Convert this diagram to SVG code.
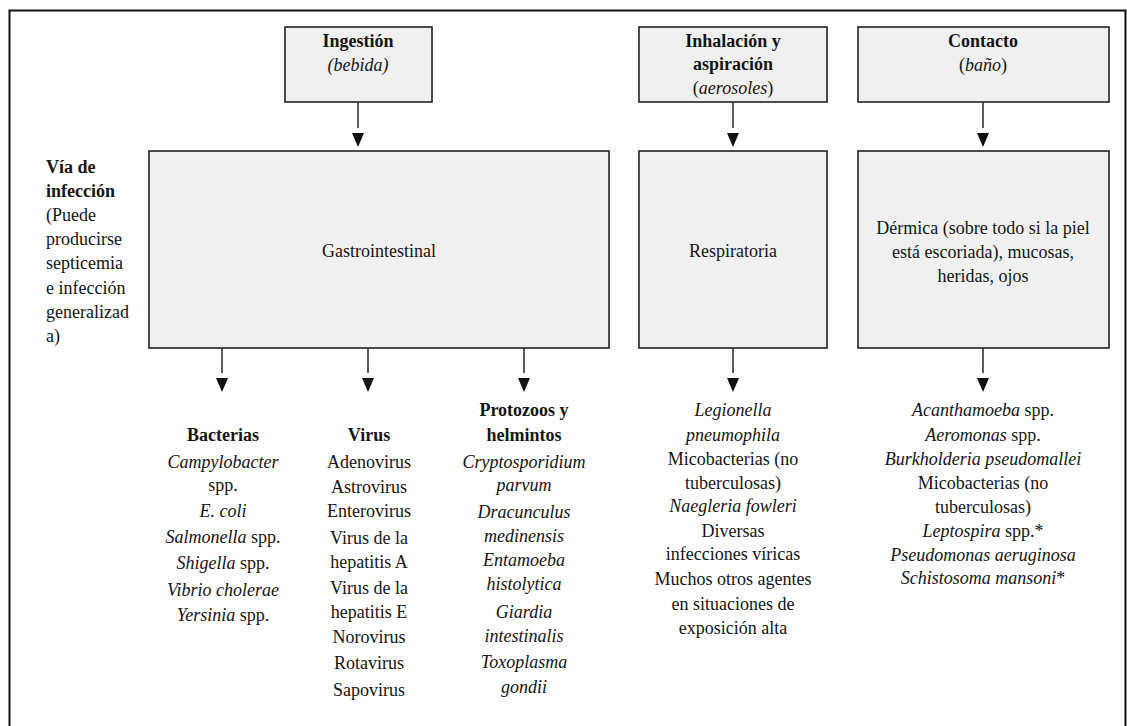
<svg xmlns="http://www.w3.org/2000/svg" width="1127" height="726" viewBox="0 0 1127 726">
<style>
text{font-family:"Liberation Serif","Times New Roman",serif;font-size:18px;fill:#151515}
.c{text-anchor:middle}
.b{font-weight:bold}
.i{font-style:italic}
.box{fill:#f0f0f0;stroke:#222;stroke-width:1.6}
.ln{stroke:#333;stroke-width:1.6;fill:none}
.ah{fill:#111}
</style>
<rect width="1127" height="726" fill="#fff"/>
<path d="M9.5,726 V10.5 H1125.5 V726" fill="none" stroke="#111" stroke-width="2"/>

<g id="ingestion">
<rect class="box" x="285" y="27" width="147" height="75"/>
<text class="c b" x="358" y="47">Ingestión</text>
<text class="c i" x="358" y="71">(bebida)</text>
</g>
<g id="inhalacion">
<rect class="box" x="639" y="27" width="188" height="75"/>
<text class="c b" x="733" y="47">Inhalación y</text>
<text class="c b" x="733" y="70">aspiración</text>
<text class="c" x="733" y="94">(<tspan class="i">aerosoles</tspan>)</text>
</g>
<g id="contacto">
<rect class="box" x="858" y="27" width="251" height="75"/>
<text class="c b" x="983" y="47">Contacto</text>
<text class="c" x="983" y="71">(<tspan class="i">baño</tspan>)</text>
</g>

<g id="via">
<text x="46" y="173" class="b">Vía de</text>
<text x="46" y="197" class="b">infección</text>
<text x="46" y="221">(Puede</text>
<text x="46" y="245">producirse</text>
<text x="46" y="269">septicemia</text>
<text x="46" y="294">e infección</text>
<text x="46" y="318">generalizad</text>
<text x="46" y="342">a)</text>
</g>

<g id="gastro">
<rect class="box" x="149" y="151" width="460" height="197"/>
<text class="c" x="379" y="257">Gastrointestinal</text>
</g>
<g id="respiratoria">
<rect class="box" x="639" y="151" width="188" height="197"/>
<text class="c" x="733" y="257">Respiratoria</text>
</g>
<g id="dermica">
<rect class="box" x="858" y="151" width="251" height="197"/>
<text class="c" x="983" y="234">Dérmica (sobre todo si la piel</text>
<text class="c" x="983" y="258">está escoriada), mucosas,</text>
<text class="c" x="983" y="282">heridas, ojos</text>
</g>

<g id="connectors">
<line class="ln" x1="358" y1="102" x2="358" y2="128"/>
<polygon class="ah" points="352,133 364,133 358,147"/>
<line class="ln" x1="733" y1="102" x2="733" y2="128"/>
<polygon class="ah" points="727,133 739,133 733,147"/>
<line class="ln" x1="983" y1="102" x2="983" y2="128"/>
<polygon class="ah" points="977,133 989,133 983,147"/>
<line class="ln" x1="222" y1="348" x2="222" y2="373"/>
<polygon class="ah" points="216,378 228,378 222,392"/>
<line class="ln" x1="368" y1="348" x2="368" y2="373"/>
<polygon class="ah" points="362,378 374,378 368,392"/>
<line class="ln" x1="524" y1="348" x2="524" y2="373"/>
<polygon class="ah" points="518,378 530,378 524,392"/>
<line class="ln" x1="733" y1="348" x2="733" y2="373"/>
<polygon class="ah" points="727,378 739,378 733,392"/>
<line class="ln" x1="983" y1="348" x2="983" y2="373"/>
<polygon class="ah" points="977,378 989,378 983,392"/>
</g>

<g id="bacterias">
<text class="c b" x="223" y="441">Bacterias</text>
<text class="c i" x="223" y="468">Campylobacter</text>
<text class="c" x="223" y="491">spp.</text>
<text class="c i" x="223" y="517">E. coli</text>
<text class="c" x="223" y="543"><tspan class="i">Salmonella</tspan> spp.</text>
<text class="c" x="223" y="569"><tspan class="i">Shigella</tspan> spp.</text>
<text class="c i" x="223" y="596">Vibrio cholerae</text>
<text class="c" x="223" y="621"><tspan class="i">Yersinia</tspan> spp.</text>
</g>
<g id="virus">
<text class="c b" x="369" y="441">Virus</text>
<text class="c" x="369" y="468">Adenovirus</text>
<text class="c" x="369" y="493">Astrovirus</text>
<text class="c" x="369" y="517">Enterovirus</text>
<text class="c" x="369" y="544">Virus de la</text>
<text class="c" x="369" y="568">hepatitis A</text>
<text class="c" x="369" y="594">Virus de la</text>
<text class="c" x="369" y="618">hepatitis E</text>
<text class="c" x="369" y="643">Norovirus</text>
<text class="c" x="369" y="669">Rotavirus</text>
<text class="c" x="369" y="696">Sapovirus</text>
</g>
<g id="protozoos">
<text class="c b" x="524" y="416">Protozoos y</text>
<text class="c b" x="524" y="441">helmintos</text>
<text class="c i" x="524" y="468">Cryptosporidium</text>
<text class="c i" x="524" y="491">parvum</text>
<text class="c i" x="524" y="518">Dracunculus</text>
<text class="c i" x="524" y="542">medinensis</text>
<text class="c i" x="524" y="566">Entamoeba</text>
<text class="c i" x="524" y="590">histolytica</text>
<text class="c i" x="524" y="618">Giardia</text>
<text class="c i" x="524" y="642">intestinalis</text>
<text class="c i" x="524" y="668">Toxoplasma</text>
<text class="c i" x="524" y="693">gondii</text>
</g>
<g id="resp-agentes">
<text class="c i" x="733" y="416">Legionella</text>
<text class="c i" x="733" y="441">pneumophila</text>
<text class="c" x="733" y="465">Micobacterias (no</text>
<text class="c" x="733" y="489">tuberculosas)</text>
<text class="c i" x="733" y="512">Naegleria fowleri</text>
<text class="c" x="733" y="537">Diversas</text>
<text class="c" x="733" y="560">infecciones víricas</text>
<text class="c" x="733" y="585">Muchos otros agentes</text>
<text class="c" x="733" y="610">en situaciones de</text>
<text class="c" x="733" y="634">exposición alta</text>
</g>
<g id="contacto-agentes">
<text class="c" x="983" y="416"><tspan class="i">Acanthamoeba</tspan> spp.</text>
<text class="c" x="983" y="441"><tspan class="i">Aeromonas</tspan> spp.</text>
<text class="c i" x="983" y="465">Burkholderia pseudomallei</text>
<text class="c" x="983" y="489">Micobacterias (no</text>
<text class="c" x="983" y="513">tuberculosas)</text>
<text class="c" x="983" y="537"><tspan class="i">Leptospira</tspan> spp.*</text>
<text class="c i" x="983" y="561">Pseudomonas aeruginosa</text>
<text class="c" x="983" y="584"><tspan class="i">Schistosoma mansoni</tspan>*</text>
</g>
</svg>
